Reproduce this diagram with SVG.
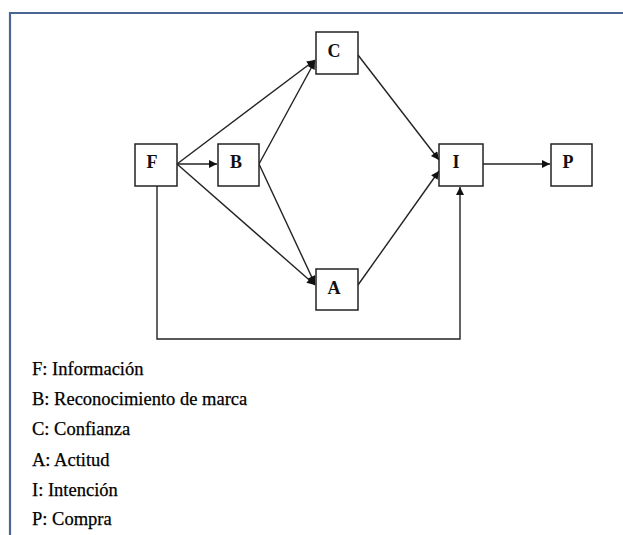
<svg xmlns="http://www.w3.org/2000/svg" width="623" height="535" viewBox="0 0 623 535">
<style>
.box{fill:#fff;stroke:#222;stroke-width:1.5}
.lbl{font-family:"Liberation Serif","Times New Roman",serif;font-size:18px;font-weight:bold;fill:#111;text-anchor:middle}
.edge{fill:none;stroke:#222;stroke-width:1.4}
.leg{font-family:"Liberation Serif","Times New Roman",serif;font-size:18.5px;fill:#000;stroke:#000;stroke-width:0.25}
</style>
<defs>
<marker id="arr" viewBox="0 0 10 10" refX="10" refY="5" markerWidth="10" markerHeight="8" markerUnits="userSpaceOnUse" orient="auto">
<path d="M0,0 L10,5 L0,10 z" fill="#111"/>
</marker>
</defs>
<rect width="623" height="535" fill="#fff"/>
<path d="M10,535 V13 H623" fill="none" stroke="#4a6794" stroke-width="2.2"/>
<g id="connectors">
<line class="edge" x1="177" y1="164" x2="217" y2="164" marker-end="url(#arr)"/>
<line class="edge" x1="177" y1="164" x2="315" y2="60" marker-end="url(#arr)"/>
<line class="edge" x1="259" y1="164" x2="315" y2="61" marker-end="url(#arr)"/>
<line class="edge" x1="177" y1="164" x2="315" y2="285" marker-end="url(#arr)"/>
<line class="edge" x1="259" y1="164" x2="315" y2="284" marker-end="url(#arr)"/>
<line class="edge" x1="358" y1="55" x2="439" y2="160" marker-end="url(#arr)"/>
<line class="edge" x1="358" y1="285" x2="439" y2="171" marker-end="url(#arr)"/>
<line class="edge" x1="483" y1="164" x2="550" y2="164" marker-end="url(#arr)"/>
<path class="edge" d="M157,186 V339 H460 V187" marker-end="url(#arr)"/>
</g>
<g id="node-F"><rect class="box" x="135" y="144" width="42" height="42"/><text class="lbl" x="152" y="168">F</text></g>
<g id="node-B"><rect class="box" x="218" y="144" width="41" height="42"/><text class="lbl" x="236" y="168">B</text></g>
<g id="node-C"><rect class="box" x="316" y="32" width="42" height="42"/><text class="lbl" x="334" y="57">C</text></g>
<g id="node-A"><rect class="box" x="316" y="269" width="42" height="41"/><text class="lbl" x="334" y="294">A</text></g>
<g id="node-I"><rect class="box" x="439" y="144" width="44" height="42"/><text class="lbl" x="456" y="168">I</text></g>
<g id="node-P"><rect class="box" x="551" y="144" width="41" height="42"/><text class="lbl" x="568" y="168">P</text></g>
<g id="legend">
<text class="leg" x="32" y="375">F: Información</text>
<text class="leg" x="32" y="405">B: Reconocimiento de marca</text>
<text class="leg" x="32" y="435">C: Confianza</text>
<text class="leg" x="32" y="466">A: Actitud</text>
<text class="leg" x="32" y="496">I: Intención</text>
<text class="leg" x="32" y="525">P: Compra</text>
</g>
</svg>
